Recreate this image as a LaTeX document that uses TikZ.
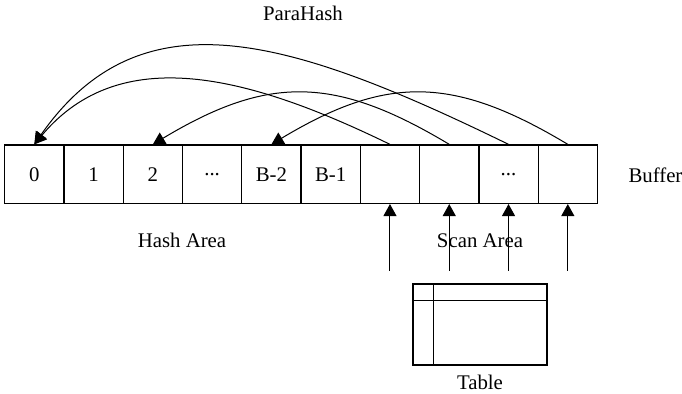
\documentclass[tikz,border=0pt]{standalone}
\usepackage{fontspec}
\setmainfont{Liberation Serif}
\usetikzlibrary{arrows.meta}
\newcommand\celldots{...}
\begin{document}
\begin{tikzpicture}[x=0.5pt,y=0.5pt,line width=0.5pt,node distance=29.64pt,
		cell/.style={draw,line width=0.6pt,minimum width=29.64pt,minimum height=29.25pt,inner sep=0pt},
		lbl/.style={inner sep=0pt},
		>={Triangle[length=6pt,width=6.5pt]},
		font=\fontsize{10.4}{12}\selectfont]
		\useasboundingbox (0,0) rectangle (682,393);
		\node[cell] (c0) at (34.3,218.8) {0};
		\foreach \x/\y/\txt in {1/0/1,2/1/2,3/2/\celldots,4/3/B-2,5/4/B-1,6/5/,7/6/,8/7/\celldots,9/8/}
			\node[cell,right of=c\y] (c\x) {\txt};
		\node[lbl] (title) at (303,379.5) {ParaHash};
		\node[lbl] (hash) at (182,152.5) {Hash Area};
		\node[lbl] (scan) at (480,152.5) {Scan Area};
		\node[lbl,anchor=west] (buf) at (628,218) {Buffer};
		\node[draw,line width=0.6pt,minimum width=67pt,minimum height=40.5pt,inner sep=0pt] (tbl) at (480,68.5) {};
		\draw ([xshift=10.5pt]tbl.north west) -- ([xshift=10.5pt]tbl.south west);
		\draw ([yshift=-8.5pt]tbl.north west) -- ([yshift=-8.5pt]tbl.north east);
		\node[lbl] (tname) at (480,10.5) {Table};
		\foreach \x/\y/\o/\p/\i/\q in {8/0/154/245/55/186,6/0/154/159/50/133,7/2/149/134/31/134,9/4/149/134/31/134}
			\draw[->] (c\x.north) .. controls +(\o:\p) and +(\i:\q) .. (c\y.north);
		\foreach \x in {6,...,9}{
			\coordinate (s\x) at ([yshift=-33.25pt]c\x.south);
			\draw[->] (s\x) -- (c\x.south);
		}
	\end{tikzpicture}
\end{document}
